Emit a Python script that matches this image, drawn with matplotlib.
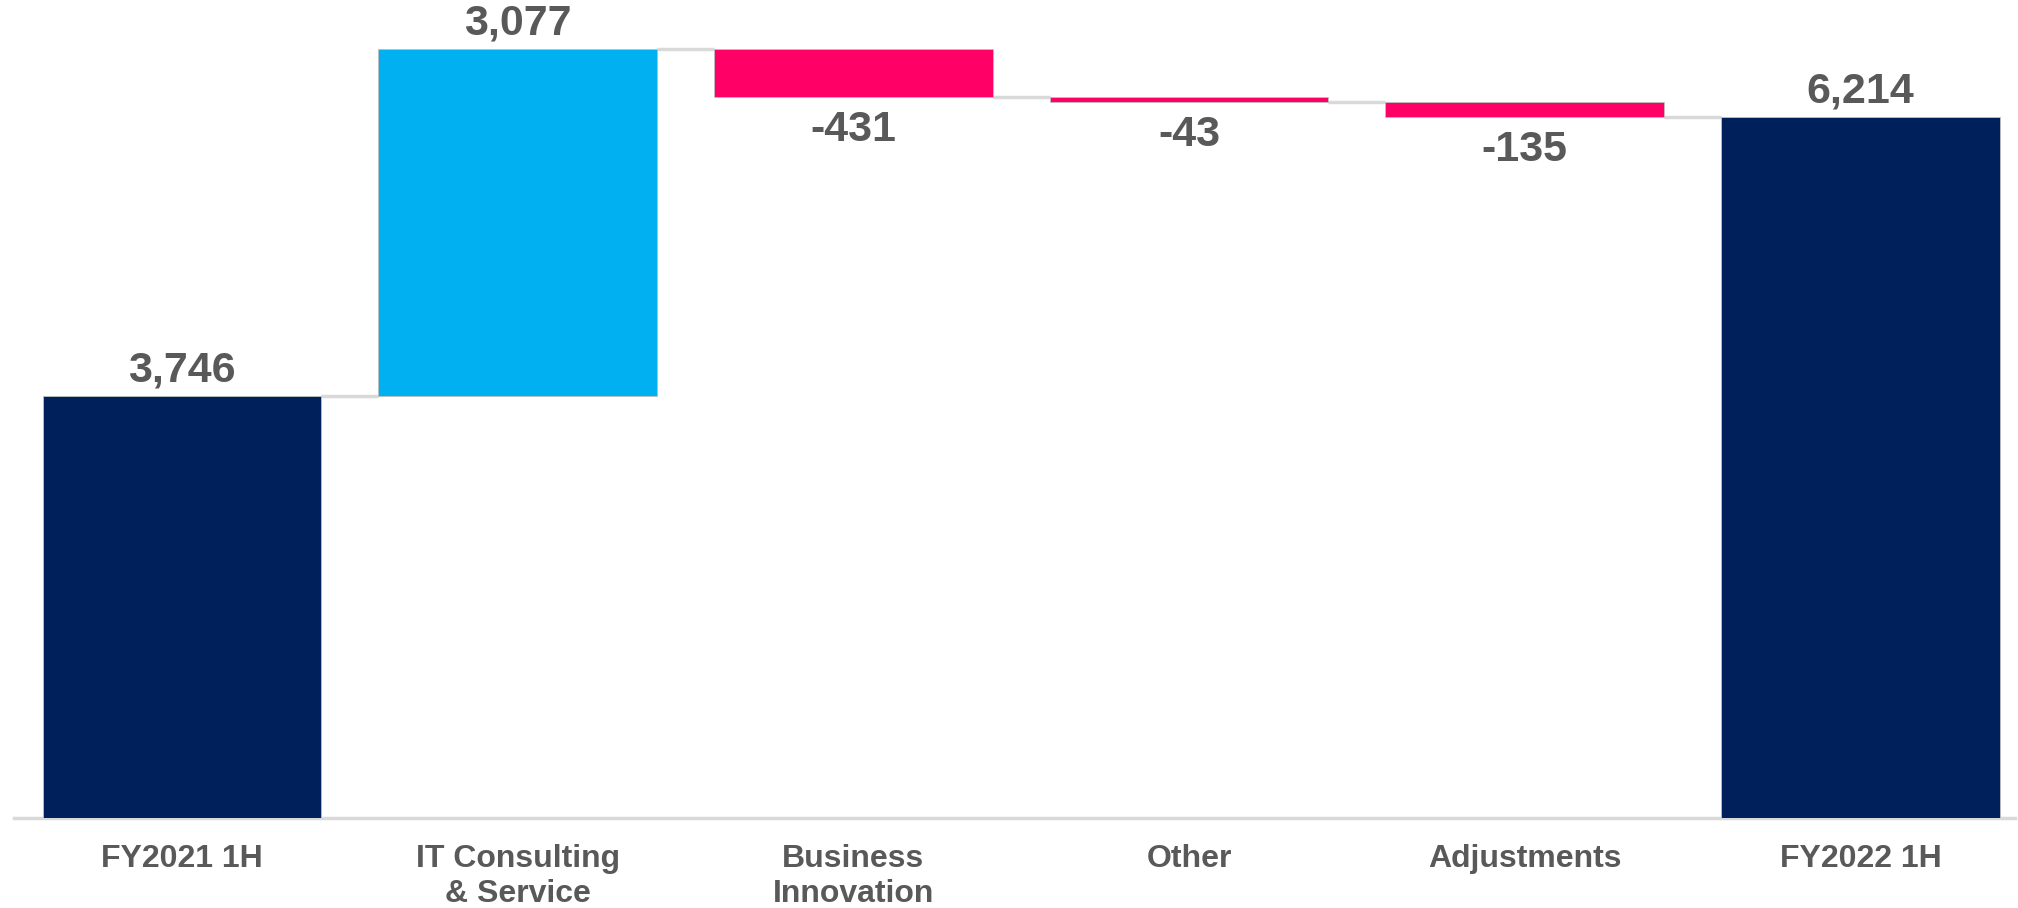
import matplotlib.pyplot as plt
import numpy as np

plt.rcParams['font.family'] = ['Liberation Sans', 'DejaVu Sans']

# datos
#
categories = ['FY2021 1H', 'IT Consulting\n& Service', 'Business\nInnovation',
              'Other', 'Adjustments', 'FY2022 1H']
start_value = 3746
changes = [3077, -431, -43, -135]
end_value = 6214

NAVY = '#00205B'
BLUE = '#00B0F0'
PINK = '#FF0066'
GREY_TXT = '#595959'
GREY_LINE = '#D9D9D9'

# bases y alturas de la cascada
#
bottoms = [0]
heights = [start_value]
level = start_value
for c in changes:
    if c >= 0:
        bottoms.append(level)
        heights.append(c)
    else:
        bottoms.append(level + c)
        heights.append(-c)
    level += c
bottoms.append(0)
heights.append(end_value)
colors = [NAVY] + [BLUE if c >= 0 else PINK for c in changes] + [NAVY]

# niveles acumulados para las lineas de union
levels = list(np.cumsum([start_value] + changes))

fig = plt.figure(figsize=(20.18, 9.08), dpi=100)
ax = fig.add_axes([14 / 2018, 1 - 818 / 908, 2001 / 2018, 818 / 908])

x = np.arange(len(categories))
w = 0.83
ax.bar(x, heights, bottom=bottoms, width=w, color=colors,
       edgecolor='#BFBFBF', linewidth=0.6, zorder=3)

# lineas de union
for i, lv in enumerate(levels):
    ax.hlines(lv, x[i] + w / 2, x[i + 1] - w / 2, colors=GREY_LINE,
              linewidth=2.5, zorder=2)

# etiquetas de valor
values = [start_value] + changes + [end_value]
for i, v in enumerate(values):
    txt = f'{v:,}'
    if v >= 0:
        ax.annotate(txt, (x[i], bottoms[i] + heights[i]), xytext=(0, 4),
                    textcoords='offset points', ha='center', va='bottom',
                    fontsize=31, fontweight='bold', color=GREY_TXT)
    else:
        ax.annotate(txt, (x[i], bottoms[i]), xytext=(0, -9),
                    textcoords='offset points', ha='center', va='top',
                    fontsize=31, fontweight='bold', color=GREY_TXT)

ax.set_xlim(-0.5, 5.46)
ax.set_ylim(0, 7254)
ax.set_xticks(x)
ax.set_xticklabels(categories, fontsize=23, fontweight='bold', color=GREY_TXT,
                   linespacing=1.2)
ax.tick_params(axis='x', length=0, pad=19)
ax.set_yticks([])
for s in ['top', 'right', 'left']:
    ax.spines[s].set_visible(False)
ax.spines['bottom'].set_color(GREY_LINE)
ax.spines['bottom'].set_linewidth(2.5)

fig.savefig('out.png', dpi=100)
